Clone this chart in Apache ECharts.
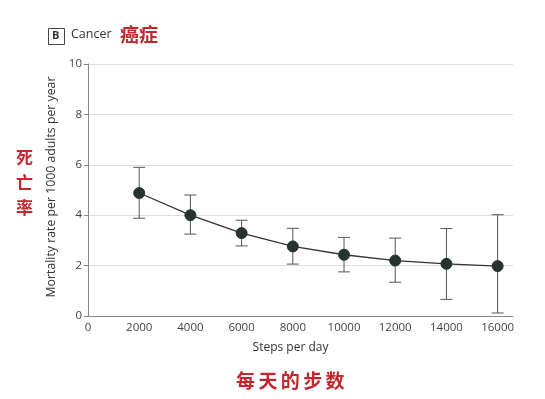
<!DOCTYPE html>
<html><head><meta charset="utf-8">
<script src="https://cdn.jsdelivr.net/npm/echarts@6/dist/echarts.min.js"></script>
<style>html,body{margin:0;padding:0;background:#fff}#c{width:545px;height:399px}</style>
</head><body><div id="c"></div>
<script>
const steps = [2000, 4000, 6000, 8000, 10000, 12000, 14000, 16000];
const rate = [4.88, 4.0, 3.29, 2.76, 2.43, 2.2, 2.07, 1.98];
const lower = [3.88, 3.25, 2.78, 2.06, 1.75, 1.34, 0.66, 0.12];
const upper = [5.9, 4.8, 3.8, 3.48, 3.12, 3.09, 3.47, 4.02];
const yTicks = [0, 2, 4, 6, 8, 10];
const bottomChars = ['每', '天', '的', '步', '数'];
const leftChars = ['死', '亡', '率'];

const chart = echarts.init(document.getElementById('c'));
const font = 'Open Sans, Noto Sans, sans-serif';
const cjk = 'Noto Sans CJK SC';
const red = '#c3262c';
const graphics = [
  {type: 'rect', left: 48, top: 28, shape: {width: 16, height: 16}, style: {fill: '#fff', stroke: '#444', lineWidth: 1}},
  {type: 'text', left: 52, top: 30, style: {text: 'B', font: 'bold 11px ' + font, fill: '#333'}},
  {type: 'text', left: 71, top: 28, style: {text: 'Cancer', font: '12.5px ' + font, fill: '#333'}},
  {type: 'text', left: 120, top: 25, style: {text: '癌症', font: 'bold 19px ' + cjk, fill: red}}
];
leftChars.forEach((ch, i) => graphics.push(
  {type: 'text', left: 16, top: 149 + i * 25, style: {text: ch, font: 'bold 17px ' + cjk, fill: red}}));
bottomChars.forEach((ch, i) => graphics.push(
  {type: 'text', left: 236 + i * 22.4, top: 371, style: {text: ch, font: 'bold 19px ' + cjk, fill: red}}));

chart.setOption({
  animation: false,
  grid: {left: 88, right: 32, top: 64, bottom: 83},
  xAxis: {
    type: 'value', min: 0, max: 16600, interval: 2000,
    name: 'Steps per day', nameLocation: 'middle', nameGap: 26,
    nameTextStyle: {color: '#333', fontSize: 12, fontFamily: font, padding: [0, 20, 0, 0]},
    axisLine: {lineStyle: {color: '#888'}},
    axisTick: {show: false},
    axisLabel: {color: '#444', fontSize: 11.5, fontFamily: font, margin: 6, showMaxLabel: false,
      formatter: v => (v % 2000 === 0 ? String(v) : '')},
    splitLine: {show: false}
  },
  yAxis: {
    type: 'value', min: yTicks[0], max: yTicks[yTicks.length - 1], interval: 2,
    name: 'Mortality rate per 1000 adults per year', nameLocation: 'middle', nameGap: 27,
    nameTextStyle: {color: '#333', fontSize: 12.3, fontFamily: font, padding: [0, 0, 0, 6]},
    axisLine: {show: true, lineStyle: {color: '#888'}},
    axisTick: {show: true, length: 4, lineStyle: {color: '#888'}},
    axisLabel: {color: '#444', fontSize: 11.5, fontFamily: font, margin: 6},
    splitLine: {lineStyle: {color: '#dedede'}}
  },
  series: [
    {
      type: 'custom',
      data: steps.map((s, i) => [s, lower[i], upper[i]]),
      z: 2,
      renderItem: (params, api) => {
        const x = api.value(0);
        const lo = api.coord([x, api.value(1)]);
        const hi = api.coord([x, api.value(2)]);
        const w = 6;
        const st = {stroke: '#555', lineWidth: 1};
        return {type: 'group', children: [
          {type: 'line', shape: {x1: lo[0], y1: lo[1], x2: hi[0], y2: hi[1]}, style: st},
          {type: 'line', shape: {x1: lo[0] - w, y1: lo[1], x2: lo[0] + w, y2: lo[1]}, style: st},
          {type: 'line', shape: {x1: hi[0] - w, y1: hi[1], x2: hi[0] + w, y2: hi[1]}, style: st}
        ]};
      }
    },
    {
      type: 'line',
      data: steps.map((s, i) => [s, rate[i]]),
      z: 3,
      symbol: 'circle', symbolSize: 11,
      lineStyle: {color: '#333', width: 1.3},
      itemStyle: {color: '#26332f', borderColor: '#26332f'}
    }
  ],
  graphic: graphics
});
</script>
</body></html>
